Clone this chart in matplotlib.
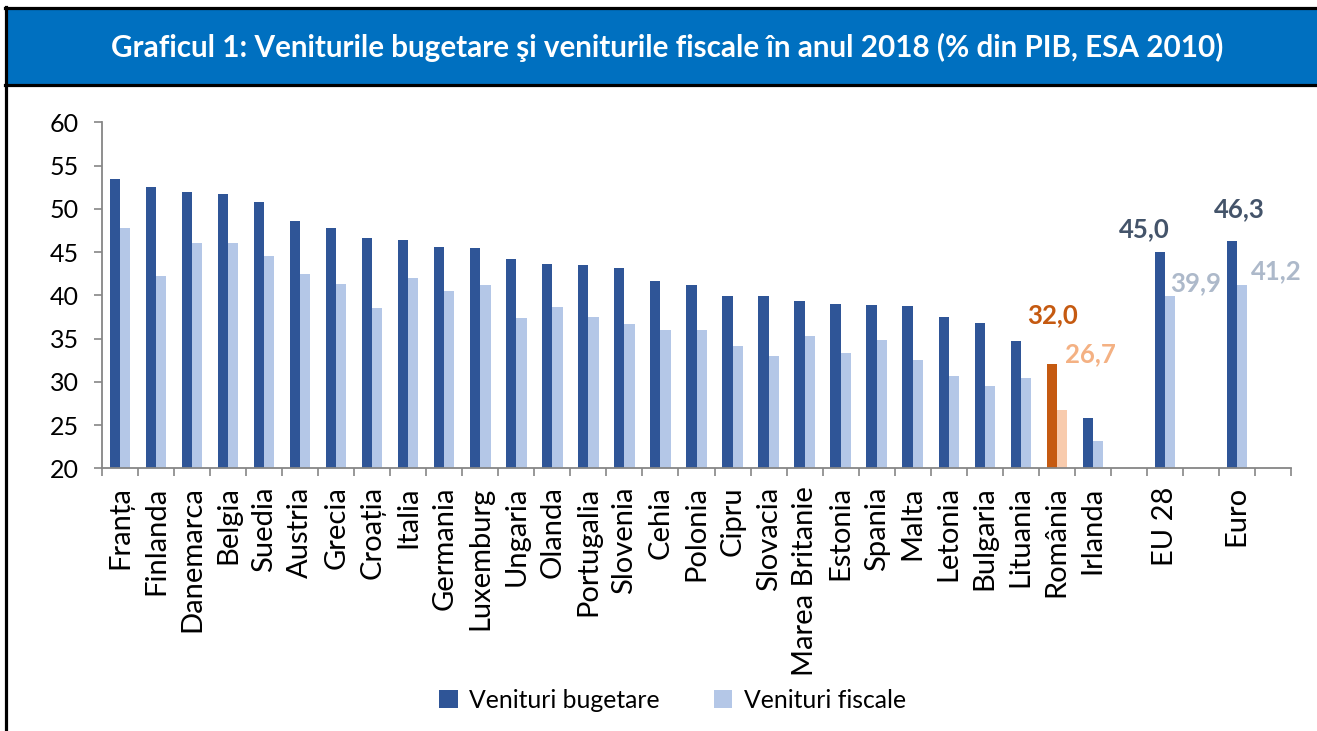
import matplotlib.pyplot as plt
from matplotlib.patches import Patch, Rectangle
from matplotlib.lines import Line2D
import numpy as np

plt.rcParams['font.family'] = ['Lato', 'DejaVu Sans']

# categories (empty strings are the gaps before EU 28 / Euro and after Euro)
categories = ['Franța', 'Finlanda', 'Danemarca', 'Belgia', 'Suedia', 'Austria', 'Grecia',
              'Croația', 'Italia', 'Germania', 'Luxemburg', 'Ungaria', 'Olanda', 'Portugalia',
              'Slovenia', 'Cehia', 'Polonia', 'Cipru', 'Slovacia', 'Marea Britanie', 'Estonia',
              'Spania', 'Malta', 'Letonia', 'Bulgaria', 'Lituania', 'România', 'Irlanda',
              '', 'EU 28', '', 'Euro', '']

venituri_bugetare = [53.5, 52.5, 51.9, 51.7, 50.8, 48.6, 47.8, 46.6, 46.4, 45.6, 45.5, 44.2,
                     43.6, 43.5, 43.1, 41.7, 41.2, 39.9, 39.9, 39.3, 39.0, 38.9, 38.8, 37.5,
                     36.8, 34.7, 32.0, 25.8, None, 45.0, None, 46.3, None]
venituri_fiscale = [47.8, 42.2, 46.1, 46.1, 44.6, 42.5, 41.3, 38.5, 42.0, 40.5, 41.2, 37.4,
                    38.7, 37.5, 36.7, 36.0, 36.0, 34.1, 33.0, 35.3, 33.3, 34.8, 32.5, 30.7,
                    29.5, 30.4, 26.7, 23.1, None, 39.9, None, 41.2, None]

yticks = [20, 25, 30, 35, 40, 45, 50, 55, 60]

dark_blue = '#2F5597'
light_blue = '#B4C7E7'
ro_dark = '#C55A11'
ro_light = '#F8CBAD'

W, H = 1317, 731
fig = plt.figure(figsize=(W / 100, H / 100), dpi=100)

# frame and title bar
fig.patches.append(Rectangle((7 / W, 1 - 84 / H), 1 - 7 / W, 75 / H, transform=fig.transFigure,
                             facecolor='#0070C0', edgecolor='none', zorder=0))
fig.add_artist(Line2D([5 / W, 1], [1 - 7.5 / H] * 2, color='black', lw=2.3))
fig.add_artist(Line2D([5 / W, 1], [1 - 85 / H] * 2, color='black', lw=2.3))
fig.add_artist(Line2D([6 / W] * 2, [0, 1 - 6.5 / H], color='black', lw=2.3))
fig.text(0.5065, 1 - 47 / H, 'Graficul 1: Veniturile bugetare şi veniturile fiscale în anul 2018 (% din PIB, ESA 2010)',
         color='white', fontsize=21.3, fontweight='bold', ha='center', va='center')

left, right = 102.3 / W, 1290.7 / W
top, bottom = 1 - 122.3 / H, 1 - 468.3 / H
ax = fig.add_axes([left, bottom, right - left, top - bottom])

x = np.arange(len(categories))
bw = 0.28
for i, cat in enumerate(categories):
    if venituri_bugetare[i] is None:
        continue
    c1, c2 = (ro_dark, ro_light) if cat == 'România' else (dark_blue, light_blue)
    ax.bar(x[i] - bw / 2, venituri_bugetare[i] - 20, bw, bottom=20, color=c1, zorder=2)
    ax.bar(x[i] + bw / 2, venituri_fiscale[i] - 20, bw, bottom=20, color=c2, zorder=2)

# value labels: (category, series, colour, offset in px from bar top centre)
labels = [
    ('România', 0, ro_dark, (1, 49.5)),
    ('România', 1, '#F4B183', (29, 56)),
    ('EU 28', 0, '#44546A', (-15, 23)),
    ('EU 28', 1, '#ADB9CA', (26, 13.5)),
    ('Euro', 0, '#44546A', (8, 32)),
    ('Euro', 1, '#ADB9CA', (35, 14)),
]
for cat, s, col, (dx, dy) in labels:
    i = categories.index(cat)
    v = [venituri_bugetare, venituri_fiscale][s][i]
    xb = x[i] + (bw / 2 if s else -bw / 2)
    ax.annotate(f'{v:.1f}'.replace('.', ','), xy=(xb, v), xytext=(dx * 0.72, dy * 0.72),
                textcoords='offset points', ha='center', va='center', color=col,
                fontsize=18.5, fontweight='bold')

ax.set_xlim(-0.5, len(categories) - 0.5)
ax.set_ylim(20, 60)
ax.set_yticks(yticks)
ax.set_yticklabels([str(t) for t in yticks], fontsize=18)
ax.set_xticks(x)
ax.set_xticklabels(categories, rotation=90, fontsize=21, va='top')
ax.set_xticks(np.arange(len(categories) + 1) - 0.5, minor=True)
ax.tick_params(axis='x', which='major', length=0, pad=13)
ax.tick_params(axis='x', which='minor', length=6, width=1.2, color='#868686', direction='out')
ax.tick_params(axis='y', length=6, width=1.2, color='#868686', pad=11)
for sp in ['top', 'right']:
    ax.spines[sp].set_visible(False)
for sp in ['left', 'bottom']:
    ax.spines[sp].set_color('#868686')
    ax.spines[sp].set_linewidth(1.3)

handles = [Patch(facecolor=dark_blue, label='Venituri bugetare'),
           Patch(facecolor=light_blue, label='Venituri fiscale')]
fig.legend(handles=handles, loc='center', bbox_to_anchor=(0.5106, 1 - 700 / H), ncol=2,
           frameon=False, fontsize=17.8, handlelength=0.75, handleheight=0.75,
           handletextpad=0.45, columnspacing=2.2)

fig.savefig('out.png', dpi=100)
